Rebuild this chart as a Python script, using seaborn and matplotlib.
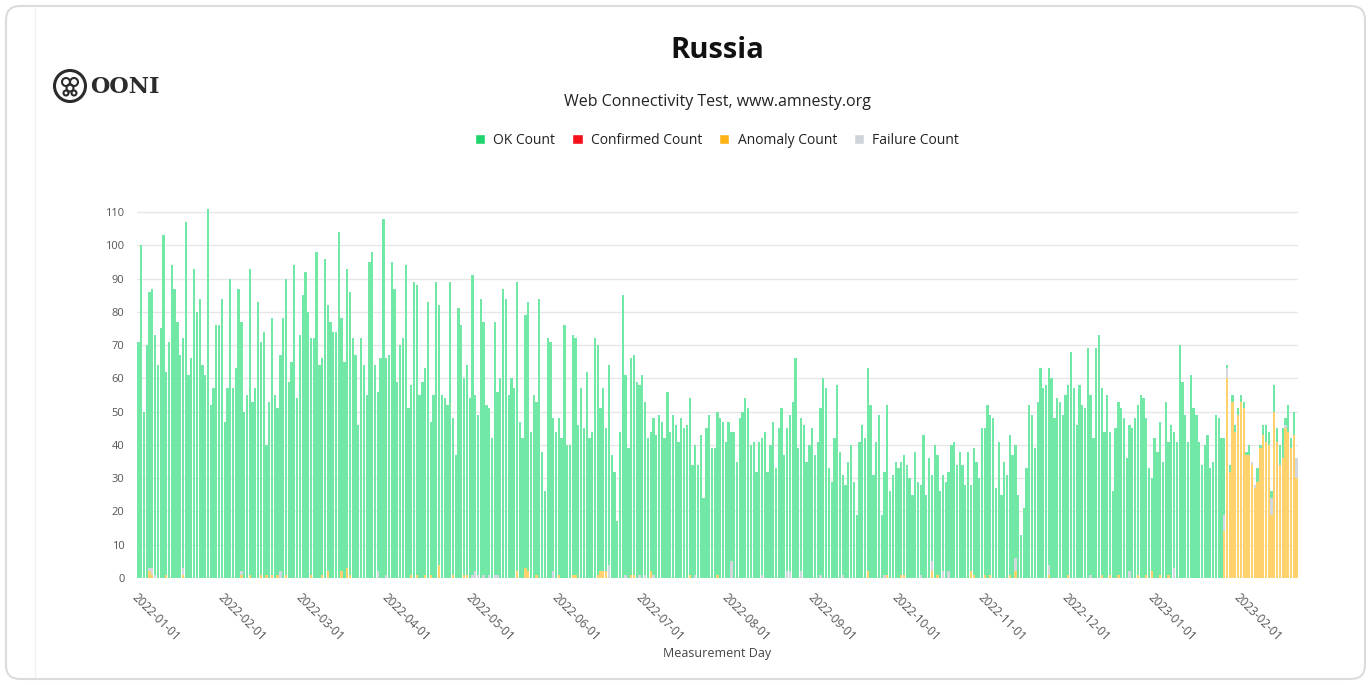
import pandas as pd
import matplotlib.pyplot as plt
import seaborn as sns
from matplotlib.patches import Patch, FancyBboxPatch, Circle

# daily totals (green period), 2022-01-01 onwards
totals_jan_feb = [71, 100, 50, 70, 86, 87, 73, 64, 75, 103, 62, 71, 94, 87, 77, 67, 72, 107, 61, 66,
                  93, 80, 84, 64, 61, 111, 52, 57, 76, 76, 84, 47, 57, 90, 57, 63, 87, 77, 50, 55,
                  93, 53, 57, 83, 71, 74, 40]
totals_feb_apr = [53, 78, 55, 51, 67, 78, 90, 59, 65, 94, 54, 73, 85, 92, 80, 72, 72, 98, 64, 66,
                  96, 82, 77, 74, 74, 104, 78, 65, 93, 86, 72, 67, 46, 72, 64, 55, 95, 98, 64, 56,
                  66, 108, 66, 67, 95, 87, 59, 70, 72, 94, 51, 58, 89, 88, 55, 59, 63, 83]
totals_apr_jun = [47, 55, 89, 82, 55, 54, 52, 89, 48, 37, 81, 76, 60, 64, 54, 91, 55, 49, 84, 77,
                  52, 51, 42, 77, 56, 60, 87, 84, 55, 60, 57, 89, 47, 42, 79, 83, 44, 55, 53, 84,
                  38, 26, 72, 71, 48, 44, 48, 42, 76, 40, 40, 73, 72, 46, 57, 45, 62, 42]
totals_jun_aug = [44, 72, 70, 51, 57, 45, 64, 37, 32, 17, 44, 85, 61, 39, 66, 67, 59, 58, 61, 53,
                  42, 44, 48, 43, 49, 47, 42, 56, 44, 49, 46, 41, 48, 45, 46, 54, 34, 40, 34, 43,
                  24, 45, 49, 39, 39, 50, 48, 47, 41, 47, 44, 44, 35, 48, 50, 54, 51, 40]
totals_aug_oct = [41, 32, 41, 42, 44, 32, 40, 47, 33, 45, 51, 37, 45, 49, 53, 66, 39, 48, 46, 35,
                  40, 45, 37, 41, 51, 60, 57, 33, 29, 42, 58, 38, 31, 28, 35, 40, 29, 19, 41, 46,
                  42, 63, 52, 31, 41, 49, 19, 32, 52, 26, 31, 35, 33, 35, 37, 34, 30]
totals_oct_dec = [25, 38, 29, 28, 43, 25, 36, 31, 40, 37, 26, 31, 29, 32, 40, 41, 34, 38, 34, 28,
                  38, 28, 39, 35, 30, 45, 45, 52, 49, 48, 27, 41, 25, 35, 31, 43, 37, 40, 25, 13,
                  21, 33, 52, 49, 39, 53, 63, 57, 58, 63, 60, 48, 54, 53, 49, 55, 58]
totals_dec_jan = [68, 57, 46, 58, 52, 51, 69, 55, 42, 69, 73, 57, 44, 55, 44, 26, 45, 53, 51, 48,
                  36, 46, 45, 48, 52, 55, 54, 48, 33, 30, 42, 38, 47, 35, 53, 41, 46, 44, 41, 70,
                  59, 49, 41, 61, 51, 49, 41, 34, 40, 43, 33, 35, 49, 48, 42]

# small anomaly / failure counts during the green period (day index, count)
early_anomaly_days = [4, 5, 10, 16, 37, 40, 44, 46, 48, 50, 53, 62, 66, 68, 73, 75, 76, 98, 100, 103,
                      105, 108, 113, 117, 118, 136, 139, 140, 143, 151, 156, 157, 165, 166, 167, 168,
                      177, 178, 184, 198, 208, 262, 269, 274, 275, 285, 287, 299, 300, 304, 306, 313,
                      315, 327, 334, 346, 349, 352, 359, 362, 364, 367, 370]
early_anomaly_vals = [2, 1, 1, 1, 1, 1, 1, 1, 1, 1, 1, 1, 1, 2, 2, 3, 1, 1, 1, 1,
                      1, 4, 1, 1, 1, 2, 3, 2, 1, 1, 1, 1, 1, 2, 2, 2,
                      1, 1, 2, 1, 1, 2, 1, 1, 1, 2, 1, 2, 1, 1, 1, 1,
                      2, 1, 1, 1, 1, 1, 1, 1, 2, 1, 1]
early_failure_days = [4, 5, 6, 16, 37, 51, 86, 89, 120, 121, 122, 124, 126, 128, 129, 149, 169, 175,
                      180, 182, 185, 200, 213, 224, 233, 234, 238, 245, 253, 268, 281, 285, 289, 291,
                      315, 327, 342, 356, 372]
early_failure_vals = [1, 2, 1, 2, 1, 2, 2, 1, 1, 2, 1, 1, 1, 1, 1, 2, 4, 1,
                      1, 1, 1, 1, 5, 1, 2, 2, 2, 1, 1, 1, 1, 3, 2, 2,
                      4, 3, 1, 2, 3]

# last weeks: mostly anomalies
late_anomaly = [14, 60, 32, 53, 44, 49, 53, 51, 37, 37, 34, 27, 29, 39, 43, 41, 40, 19, 50, 41,
                34, 36, 45, 44, 39, 43, 30]
late_failure = [5, 3, 0, 0, 0, 0, 0, 0, 0, 0, 1, 1, 0, 0, 0, 0, 0, 5, 0, 0,
                0, 0, 1, 0, 0, 0, 6]
late_ok = [23, 1, 2, 2, 2, 2, 2, 2, 1, 3, 0, 0, 4, 1, 3, 5, 4, 2, 8, 4,
           6, 9, 2, 8, 3, 7, 0]

month_labels = ["2022-01-01", "2022-02-01", "2022-03-01", "2022-04-01", "2022-05-01", "2022-06-01",
                "2022-07-01", "2022-08-01", "2022-09-01", "2022-10-01", "2022-11-01", "2022-12-01",
                "2023-01-01", "2023-02-01"]

# build the table
early_totals = (totals_jan_feb + totals_feb_apr + totals_apr_jun + totals_jun_aug
                + totals_aug_oct + totals_oct_dec + totals_dec_jan)
n_early = len(early_totals)
anomaly = [0] * n_early
failure = [0] * n_early
for d, v in zip(early_anomaly_days, early_anomaly_vals):
    anomaly[d] = v
for d, v in zip(early_failure_days, early_failure_vals):
    failure[d] = v
ok = [t - a - f for t, a, f in zip(early_totals, anomaly, failure)]
anomaly += late_anomaly
failure += late_failure
ok += late_ok

df = pd.DataFrame({"day": range(len(ok)), "ok": ok, "anomaly": anomaly, "failure": failure})
df["confirmed"] = 0
df["top_anom_fail"] = df["anomaly"] + df["failure"]
df["total"] = df["top_anom_fail"] + df["confirmed"] + df["ok"]
dates = pd.date_range("2022-01-01", periods=len(df))
tick_pos = [(pd.Timestamp(m) - dates[0]).days for m in month_labels]

GREEN = "#72e8a6"
ORANGE = "#ffd26e"
GREY = "#d3d8de"

sns.set_style("white")
plt.rcParams["font.family"] = ["Open Sans", "DejaVu Sans"]

fig = plt.figure(figsize=(13.71, 6.85), dpi=100)

# card frame (outline only, behind everything)
fig.patches.append(FancyBboxPatch((6, 6), 1359, 673, boxstyle="round,pad=0,rounding_size=14",
                                  transform=None, facecolor="none", edgecolor="#dcdcdc",
                                  linewidth=1.5, zorder=-5))
fig.add_artist(plt.Line2D([35 / 1371, 35 / 1371], [8 / 685, 677 / 685], color="#f0f0f0",
                          linewidth=1, transform=fig.transFigure, zorder=-5))

# y range goes a little past 110 so the tallest bar is not cut
y_top = 112
px_per_unit = (578 - 212) / 110
ax_h = px_per_unit * y_top
ax = fig.add_axes([137 / 1371, (685 - 578) / 685, (1298 - 137) / 1371, ax_h / 685])
ax.set_facecolor("none")

kw = dict(x="day", native_scale=True, width=0.82, saturation=1, errorbar=None,
          linewidth=0, ax=ax)
sns.barplot(data=df, y="total", color=GREEN, **kw)
sns.barplot(data=df, y="top_anom_fail", color=GREY, **kw)
sns.barplot(data=df, y="anomaly", color=ORANGE, **kw)

ax.set_xlim(-0.5, len(df) - 0.5)
ax.set_ylim(0, y_top)
ax.set_yticks(range(0, 111, 10))
ax.yaxis.grid(True, color="#e6e6e6", linewidth=1)
ax.set_axisbelow(True)
for s in ax.spines.values():
    s.set_visible(False)
ax.tick_params(axis="y", length=6, width=1, color="#9a9a9a", labelsize=8,
               labelcolor="#555555", pad=3)
ax.set_xticks(tick_pos)
ax.set_xticklabels(month_labels, rotation=-45, ha="left", va="top", rotation_mode="anchor")
ax.tick_params(axis="x", length=5, width=1, color="#9a9a9a", labelsize=8.5,
               labelcolor="#555555", pad=4)
ax.set_xlabel("")
ax.set_ylabel("")

fig.text(717 / 1371, 1 - 653 / 685, "Measurement Day", ha="center", va="center",
         fontsize=9, color="#444444")

# titles
fig.text(717 / 1371, 1 - 50 / 685, "Russia", ha="center", va="center", fontsize=21,
         fontweight="bold", color="#111111")
fig.text(717 / 1371, 1 - 102 / 685, "Web Connectivity Test, www.amnesty.org", ha="center",
         va="center", fontsize=11.5, color="#222222")

# legend
handles = [Patch(facecolor="#1fd46c", label="OK Count"),
           Patch(facecolor="#f5101a", label="Confirmed Count"),
           Patch(facecolor="#fdb316", label="Anomaly Count"),
           Patch(facecolor="#cfd4da", label="Failure Count")]
fig.legend(handles=handles, loc="center", bbox_to_anchor=(717 / 1371, 1 - 140 / 685), ncol=4,
           frameon=False, fontsize=10, handlelength=0.75, handleheight=0.75,
           handletextpad=0.6, columnspacing=1.2, labelcolor="#222222")

# OONI logo
fig.patches.append(Circle((70, 685 - 86), 15.5, transform=None, facecolor="none",
                          edgecolor="#2b2b2b", linewidth=2.2))
for cx, cy, r in [(66, 82, 4), (74, 82, 4), (70, 88, 3.5), (66, 93, 2.5), (74, 93, 2.5)]:
    fig.patches.append(Circle((cx, 685 - cy), r, transform=None, facecolor="none",
                              edgecolor="#2b2b2b", linewidth=1.5))
fig.text(90 / 1371, 1 - 87 / 685, "OONI", ha="left", va="center", fontsize=16,
         fontweight="bold", family=["DejaVu Serif"], color="#2b2b2b")

fig.savefig("out.png", dpi=100)
